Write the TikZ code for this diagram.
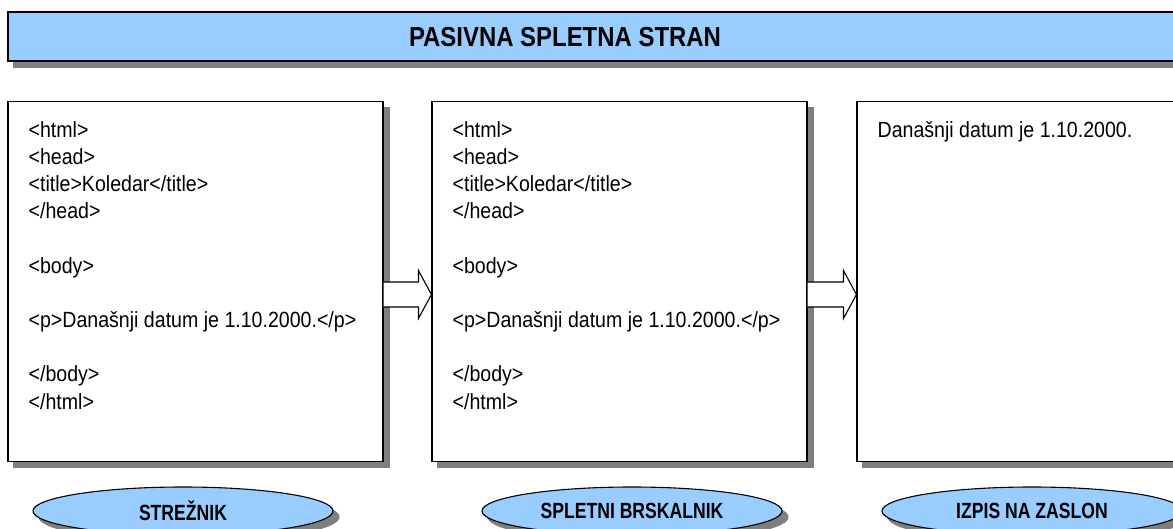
\documentclass[tikz,border=0pt]{standalone}
\usepackage{fontspec}
\setmainfont[FakeStretch=0.89]{Liberation Sans}
\newfontfamily\ovalfont[FakeStretch=0.8]{Liberation Sans}
\newfontfamily\titlefont[FakeStretch=0.87]{Liberation Sans}
\usepackage{tikz}
\usetikzlibrary{shapes.geometric, positioning, calc}

\definecolor{barblue}{HTML}{99CCFF}
\definecolor{shadowgray}{HTML}{7F7F7F}

\tikzset{
  dshadow/.style={preaction={fill=shadowgray, draw=shadowgray, line width=1.1pt, transform canvas={shift={(6pt,-6pt)}}}},
  pane/.style={draw, line width=1.1pt, fill=white, dshadow, minimum width=375, minimum height=360, inner sep=0},
  code/.style={anchor=north west, align=left, inner sep=0, font=\fontsize{22}{27.2}\selectfont},
  oval/.style={ellipse, draw, line width=1.1pt, fill=barblue, dshadow, minimum width=300, minimum height=48,
    font=\ovalfont\bfseries\fontsize{22}{24}\selectfont},
  flow/.style={draw, line width=1.1pt, fill=white, line join=miter}
}

\begin{document}
\begin{tikzpicture}[x=1pt, y=-1pt]
  \useasboundingbox (0,0) rectangle (1173,529);
  \clip (0,0) rectangle (1173,529);
  % title bar
  \node[draw, line width=1.1pt, fill=barblue, dshadow, minimum width=1180, minimum height=49, inner sep=0]
    (bar) at (598,36.5) {};
  \node[font=\titlefont\bfseries\fontsize{27.5}{30}\selectfont] (title) at (565,37) {PASIVNA SPLETNA STRAN};

  % the three panes
  \node[pane] (srv) at (195.5,281.5) {};
  \node[pane] (brs) at (619.5,281.5) {};
  \node[pane] (scr) at (1044.5,281.5) {};

  \node[code] (srvtxt) at ($(srv.north west)+(21,20)$) {%
    <html>\\ <head>\\ <title>Koledar</title>\\ </head>\\[27.2pt]
    <body>\\[27.2pt] <p>Današnji datum je 1.10.2000.</p>\\[27.2pt]
    </body>\\ </html>};
  \node[code] (brstxt) at ($(brs.north west)+(21,20)$) {%
    <html>\\ <head>\\ <title>Koledar</title>\\ </head>\\[27.2pt]
    <body>\\[27.2pt] <p>Današnji datum je 1.10.2000.</p>\\[27.2pt]
    </body>\\ </html>};
  \node[code] (scrtxt) at ($(scr.north west)+(21,20)$) {Današnji datum je 1.10.2000.};

  % block arrows between panes
  \coordinate (ay) at (0,294.5);
  \draw[flow] ($(srv.east |- ay)+(0,-12.5)$) -- ($(brs.west |- ay)+(-13,-12.5)$)
    -- ($(brs.west |- ay)+(-13,-24)$) -- (brs.west |- ay) -- ($(brs.west |- ay)+(-13,24)$)
    -- ($(brs.west |- ay)+(-13,12.5)$) -- ($(srv.east |- ay)+(0,12.5)$);
  \draw[flow] ($(brs.east |- ay)+(0,-12.5)$) -- ($(scr.west |- ay)+(-13,-12.5)$)
    -- ($(scr.west |- ay)+(-13,-24)$) -- (scr.west |- ay) -- ($(scr.west |- ay)+(-13,24)$)
    -- ($(scr.west |- ay)+(-13,12.5)$) -- ($(brs.east |- ay)+(0,12.5)$);

  % labels below
  \node[oval] (srvlbl) at (183,511) {STREŽNIK};
  \node[oval] (brslbl) at (632,511) {SPLETNI BRSKALNIK};
  \node[oval] (scrlbl) at (1032,511) {IZPIS NA ZASLON};
\end{tikzpicture}
\end{document}
